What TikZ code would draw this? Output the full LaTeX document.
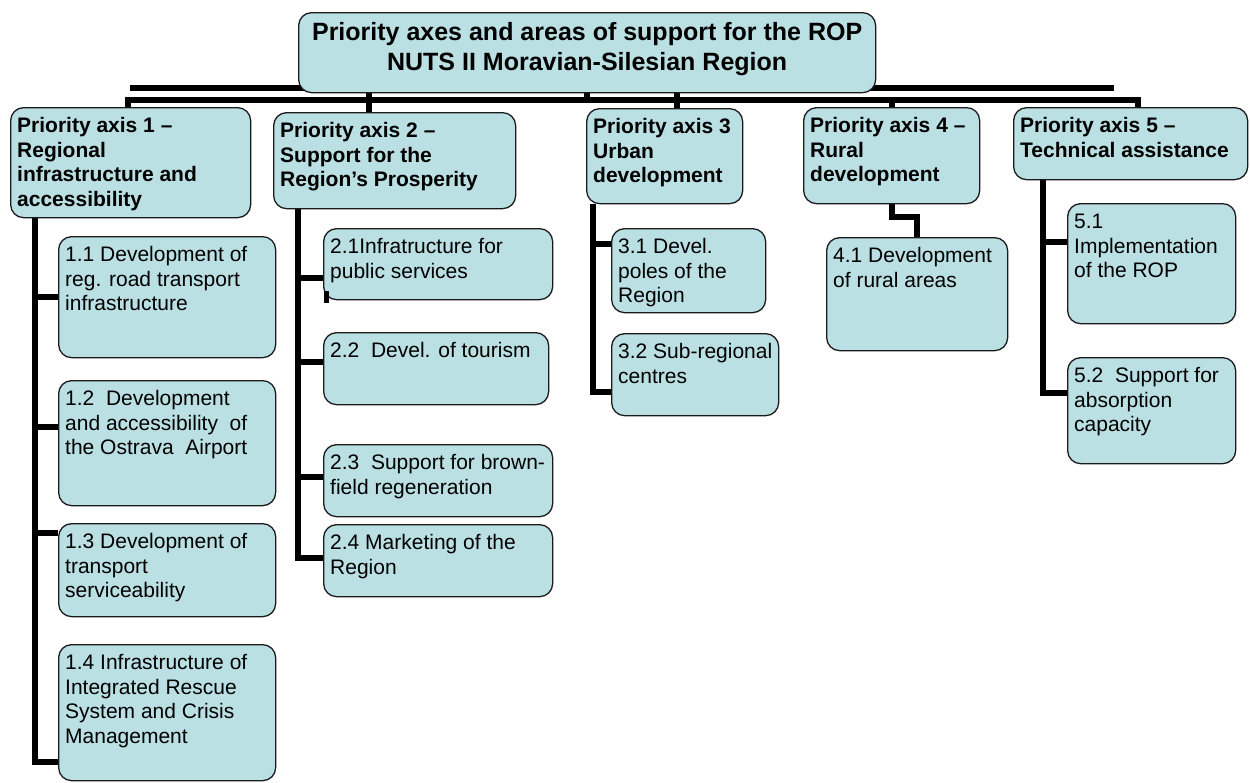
\documentclass[tikz,border=0pt]{standalone}
\usepackage{fontspec}
\setmainfont{Liberation Sans}
\usetikzlibrary{backgrounds}
\definecolor{boxfill}{HTML}{BBE0E3}
\definecolor{edge}{HTML}{1A1A1A}
\tikzset{
  box/.style={draw=edge, line width=1.3pt, fill=boxfill, rounded corners=13pt, inner sep=0pt, anchor=north west},
  subtxt/.style={anchor=north west, inner sep=0pt, align=left, xshift=7pt, font=\fontsize{21}{24.5}\selectfont},
  axtxt/.style={subtxt, font=\bfseries\fontsize{21}{24.5}\selectfont},
  toptxt/.style={anchor=north, inner sep=0pt, align=center, font=\bfseries\fontsize{25}{30}\selectfont},
  conn/.style={line width=6pt, draw=black, line join=miter},
}
% name, x1, y1, x2, y2, text style, text
\newcommand\cbox[7]{\node[box, minimum width={#4-#2}, minimum height={#5-#3},
  label={[#6,name=#1t]north west:{\rule{0pt}{25.5pt}#7}}] (#1) at (#2,#3) {};}
\begin{document}
\begin{tikzpicture}[x=1pt,y=-1pt]
\useasboundingbox (0,0) rectangle (1250,782);

% ---------- boxes
\node[box, minimum width=577, minimum height=80,
  label={[toptxt,name=topt]north:{\rule{0pt}{28pt}Priority axes and areas of support for the ROP\\NUTS II Moravian-Silesian Region}}] (top) at (298,12) {};

\cbox{a1}{10}{107}{250}{217}{axtxt}{Priority axis 1 –\\Regional\\infrastructure and\\accessibility}
\cbox{a2}{273}{112}{515}{208}{axtxt}{Priority axis 2 –\\Support for the\\Region’s Prosperity}
\cbox{a3}{586}{108}{742}{203}{axtxt}{Priority axis 3\\Urban\\development}
\cbox{a4}{803}{107}{979}{203}{axtxt}{Priority axis 4 –\\Rural\\development}
\cbox{a5}{1013}{107}{1247}{179}{axtxt}{Priority axis 5 –\\Technical assistance}

\cbox{b11}{58}{236}{275}{357}{subtxt}{1.1 Development of\\reg. road transport\\infrastructure}
\cbox{b12}{58}{380}{275}{505}{subtxt}{1.2~ Development\\and accessibility~ of\\the Ostrava~ Airport}
\cbox{b13}{58}{523}{275}{616}{subtxt}{1.3 Development of\\transport\\serviceability}
\cbox{b14}{58}{644}{275}{780}{subtxt}{1.4 Infrastructure of\\Integrated Rescue\\System and Crisis\\Management}

\cbox{b21}{323}{228}{552}{299}{subtxt}{2.1Infratructure for\\public services}
\cbox{b22}{323}{332}{548}{404}{subtxt}{2.2~ Devel. of tourism}
\cbox{b23}{323}{444}{552}{516}{subtxt}{2.3~ Support for brown-\\field regeneration}
\cbox{b24}{323}{524}{552}{596}{subtxt}{2.4 Marketing of the\\Region}

\cbox{b31}{611}{228}{765}{312}{subtxt}{3.1 Devel.\\poles of the\\Region}
\cbox{b32}{611}{333}{778}{415}{subtxt}{3.2 Sub-regional\\centres}

\cbox{b41}{826}{237}{1007}{350}{subtxt}{4.1 Development\\of rural areas}

\cbox{b51}{1067}{203}{1235}{323}{subtxt}{5.1\\Implementation\\of the ROP}
\cbox{b52}{1067}{357}{1235}{463}{subtxt}{5.2~ Support for\\absorption\\capacity}

% ---------- coordinates for connectors
\coordinate (u1) at (130,88);
\coordinate (u2) at (1114,88);
\coordinate (l1) at (128,100);
\coordinate (l2) at (1138,100);
\coordinate (d2) at (369,100);
\coordinate (d3) at (677,100);
\coordinate (d4) at (892,100);
\coordinate (e4) at (892,217);
\coordinate (e4b) at (917,217);
\coordinate (k11) at (35,297);
\coordinate (k12) at (35,427);
\coordinate (k13) at (35,533);
\coordinate (k14) at (35,762);
\coordinate (k21) at (298,278);
\coordinate (k22) at (298,362);
\coordinate (k23) at (298,477);
\coordinate (k24) at (298,558);
\coordinate (m1) at (326,291);
\coordinate (m2) at (326,303);
\coordinate (k31) at (593,244);
\coordinate (k32) at (593,392);
\coordinate (k51) at (1043,242);
\coordinate (k52) at (1043,393);

% ---------- connectors (behind the boxes)
\begin{scope}[on background layer]
\fill[white] (0,0) rectangle (1250,782);
\draw[conn] (u1) -- (u2);
\draw[conn] (a1.north -| l1) -- (l1) -- (l2) -- (a5.north -| l2);
\draw[conn] (top.south) -- (top.south |- l1);
\draw[conn] (top.south -| d2) -- (a2.north -| d2);
\draw[conn] (top.south -| d3) -- (a3.north -| d3);
\draw[conn] (d4) -- (a4.north -| d4);
\draw[conn] (a4.south -| e4) -- (e4) -- (e4b) -- (b41.north -| e4b);
% axis 1
\draw[conn] (a1.south -| k11) -- (k14) -- (b14.west |- k14);
\draw[conn] (k11) -- (b11.west |- k11);
\draw[conn] (k12) -- (b12.west |- k12);
\draw[conn] (k13) -- (b13.west |- k13);
% axis 2
\draw[conn] (a2.south -| k21) -- (k24) -- (b24.west |- k24);
\draw[conn] (k21) -- (b21.west |- k21);
\draw[conn] (k22) -- (b22.west |- k22);
\draw[conn] (k23) -- (b23.west |- k23);
% axis 3
\draw[conn] (a3.south -| k31) -- (k32) -- (b32.west |- k32);
\draw[conn] (k31) -- (b31.west |- k31);
% axis 5
\draw[conn] (a5.south -| k51) -- (k52) -- (b52.west |- k52);
\draw[conn] (k51) -- (b51.west |- k51);
\end{scope}
\draw[line width=5pt] (m1) -- (m2);

\end{tikzpicture}
\end{document}
